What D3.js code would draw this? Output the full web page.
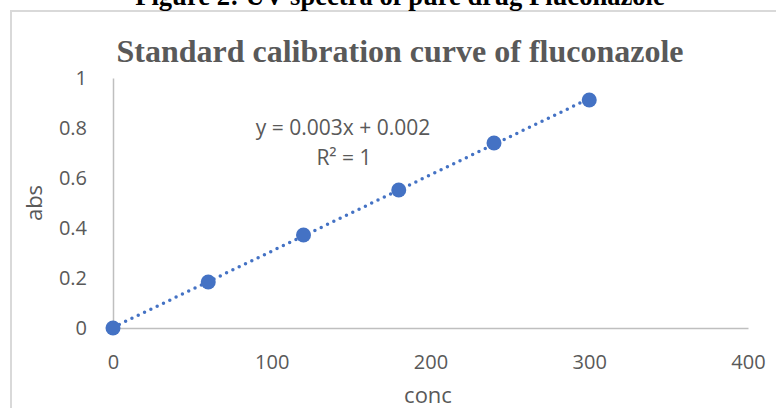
<!DOCTYPE html>
<html>
<head>
<meta charset="utf-8">
<script src="https://cdn.jsdelivr.net/npm/d3@7"></script>
<style>
  html, body { margin: 0; padding: 0; background: #fff; }
  svg { display: block; }
</style>
</head>
<body>
<svg id="chart" width="776" height="408"></svg>
<script>
// ---- data ----
const conc = [0, 60, 120, 180, 240, 300];
const abs = [0, 0.184, 0.372, 0.552, 0.74, 0.912];
const xTicks = [0, 100, 200, 300, 400];
const yTicks = [0, 0.2, 0.4, 0.6, 0.8, 1];
const captionText = "Figure 2: UV spectra of pure drug Fluconazole";
const titleText = "Standard calibration curve of fluconazole";
const xLabel = "conc";
const yLabel = "abs";
const equationText = "y = 0.003x + 0.002";
const r2Text = "R² = 1";

const svg = d3.select("#chart");
const textColor = "#595959";
const axisColor = "#bfbfbf";
const markColor = "#4472c4";
const font = "'Open Sans', sans-serif";

// border of chart area
svg.append("rect")
  .attr("x", 11).attr("y", 11)
  .attr("width", 900).attr("height", 600)
  .attr("fill", "none")
  .attr("stroke", "#d9d9d9")
  .attr("stroke-width", 2);

// caption (clipped at top)
svg.append("text")
  .attr("x", 400).attr("y", 5)
  .attr("text-anchor", "middle")
  .attr("font-family", "'Liberation Serif', 'Times New Roman', serif")
  .attr("font-weight", "bold")
  .attr("font-size", 26.6)
  .attr("fill", "#000")
  .text(captionText);

// title
svg.append("text")
  .attr("x", 400).attr("y", 62)
  .attr("text-anchor", "middle")
  .attr("font-family", "'Liberation Serif', 'Times New Roman', serif")
  .attr("font-weight", "bold")
  .attr("font-size", 32)
  .attr("fill", textColor)
  .text(titleText);

// scales
const x = d3.scaleLinear().domain([0, 400]).range([113, 748]);
const y = d3.scaleLinear().domain([0, 1]).range([328, 78]);

// x axis
const xAxis = svg.append("g")
  .attr("transform", `translate(0,${y(0)})`)
  .call(d3.axisBottom(x).tickValues(xTicks).tickSize(0).tickPadding(27).tickFormat(d3.format("d")));
xAxis.select(".domain").attr("stroke", axisColor).attr("stroke-width", 1.5);
xAxis.selectAll("text").attr("font-family", font).attr("font-size", 20).attr("fill", textColor);

// y axis
const yAxis = svg.append("g")
  .attr("transform", `translate(${x(0)},0)`)
  .call(d3.axisLeft(y).tickValues(yTicks).tickSize(0).tickPadding(26).tickFormat(d => d3.format("")(+d.toFixed(1))));
yAxis.select(".domain").attr("stroke", axisColor).attr("stroke-width", 1.5);
yAxis.selectAll("text").attr("font-family", font).attr("font-size", 20).attr("fill", textColor);

// axis titles
svg.append("text")
  .attr("x", 428).attr("y", 403)
  .attr("text-anchor", "middle")
  .attr("font-family", font).attr("font-size", 22)
  .attr("fill", textColor)
  .text(xLabel);

svg.append("text")
  .attr("transform", "translate(42,203) rotate(-90)")
  .attr("text-anchor", "middle")
  .attr("font-family", font).attr("font-size", 22)
  .attr("fill", textColor)
  .text(yLabel);

// linear regression trendline
const n = conc.length;
const mx = d3.mean(conc), my = d3.mean(abs);
const slope = d3.sum(conc.map((c, i) => (c - mx) * (abs[i] - my))) / d3.sum(conc.map(c => (c - mx) ** 2));
const intercept = my - slope * mx;
const xExtent = d3.extent(conc);
svg.append("path")
  .datum(xExtent)
  .attr("d", d3.line().x(d => x(d)).y(d => y(slope * d + intercept)))
  .attr("fill", "none")
  .attr("stroke", markColor)
  .attr("stroke-width", 3.5)
  .attr("stroke-linecap", "round")
  .attr("stroke-dasharray", "0 7");

// points
svg.append("g").selectAll("circle")
  .data(conc.map((c, i) => [c, abs[i]]))
  .join("circle")
  .attr("cx", d => x(d[0]))
  .attr("cy", d => y(d[1]))
  .attr("r", 7.5)
  .attr("fill", markColor);

// equation labels
svg.append("text")
  .attr("x", 343).attr("y", 135)
  .attr("text-anchor", "middle")
  .attr("font-family", font).attr("font-size", 21)
  .attr("fill", textColor)
  .text(equationText);
svg.append("text")
  .attr("x", 344).attr("y", 165)
  .attr("text-anchor", "middle")
  .attr("font-family", font).attr("font-size", 21)
  .attr("fill", textColor)
  .text(r2Text);
</script>
</body>
</html>
